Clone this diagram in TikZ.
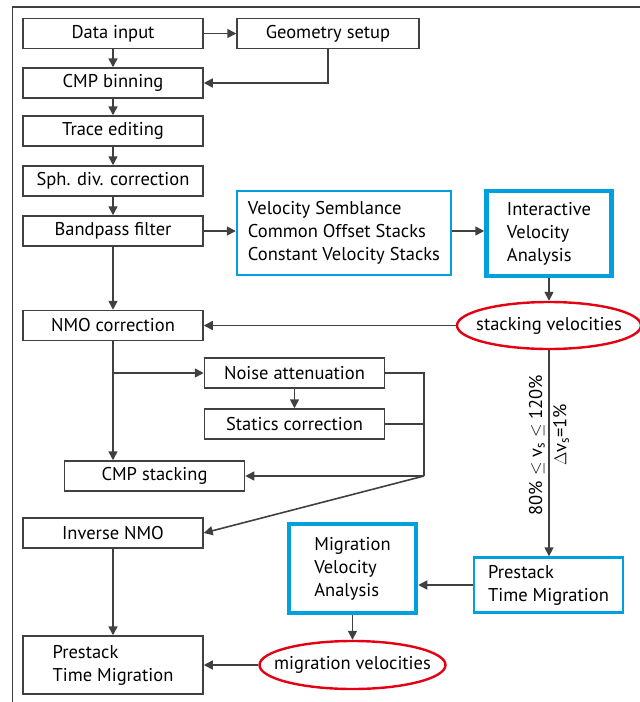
\documentclass[tikz,border=0pt]{standalone}
\usepackage{fontspec}
\setmainfont{PT Sans}
\usetikzlibrary{shapes.geometric}
\usetikzlibrary{positioning}
\usetikzlibrary{arrows.meta}
\definecolor{linegray}{RGB}{64,64,64}
\definecolor{boxblue}{RGB}{0,160,222}
\definecolor{velred}{RGB}{228,0,18}

\begin{document}
\begin{tikzpicture}[x=1pt, y=-1pt, font=\fontsize{18.5}{23}\selectfont,
    box/.style={draw=linegray, line width=1.5pt, rectangle, minimum width=180pt, minimum height=30pt, inner sep=0pt, align=center},
    bluebox/.style={draw=boxblue, line width=2.4pt, rectangle, inner sep=0pt, align=left},
    thickblue/.style={bluebox, line width=4.5pt},
    velo/.style={draw=velred, line width=2.4pt, ellipse, inner xsep=-15pt, inner ysep=0pt, minimum width=184pt, minimum height=47pt},
    flow/.style={draw=linegray, line width=1.6pt, -{Triangle[length=9pt,width=9pt]}},
    link/.style={draw=linegray, line width=1.6pt}]
            \useasboundingbox (0,0) rectangle (640,702);
            \draw[link] (640,7) -- (12.5,7) -- (12.5,702);

            \node[box] (datain) at (113,33.5) {Data input};
            \node[box, minimum width=182pt] (geom) at (328,33.5) {Geometry setup};
            \node[box] (cmpbin) at (113,83) {CMP binning};
            \node[box] (trace) at (113,131) {Trace editing};
            \node[box] (sphdiv) at (113,181) {Sph. div. correction};
            \node[box] (bandpass) at (113,231) {Bandpass filter};
            \node[bluebox, minimum width=214pt, minimum height=84pt] (semb) at (344,233) {Velocity Semblance\\Common Offset Stacks\\Constant Velocity Stacks};
            \node[thickblue, minimum width=125pt, minimum height=85pt] (iva) at (549,233.5) {Interactive\\Velocity\\Analysis};
            \node[velo] (stackvel) at (549,325.5) {stacking velocities};
            \node[box] (nmo) at (113,325.5) {NMO correction};
            \node[box] (noise) at (294.5,373) {Noise attenuation};
            \node[box] (statics) at (294.5,424) {Statics correction};
            \node[box] (cmpstack) at (154.5,476) {CMP stacking};
            \node[box] (invnmo) at (113,533) {Inverse NMO};
            \node[thickblue, minimum width=127pt, minimum height=89pt] (mva) at (352.5,568.5) {Migration\\Velocity\\Analysis};
            \node[bluebox, minimum width=149pt, minimum height=55pt] (ptmr) at (548.5,585) {Prestack\\Time Migration};
            \node[velo, minimum width=186pt, minimum height=48pt] (migvel) at (352.5,665) {migration velocities};
            \node[box, minimum height=58pt, align=left] (ptml) at (113,665) {Prestack\\Time Migration};
            \coordinate (split) at (113,373);
            \coordinate (merge) at (424,476);

            \draw[flow] (datain) -- (geom);
            \draw[flow] (datain) -- (cmpbin);
            \draw[flow] (geom.south) |- (cmpbin.east);
            \draw[flow] (cmpbin) -- (trace);
            \draw[flow] (trace) -- (sphdiv);
            \draw[flow] (sphdiv) -- (bandpass);
            \draw[flow] (bandpass.east) -- (bandpass.east -| semb.west);
            \draw[flow] (semb.east |- bandpass.east) -- (bandpass.east -| iva.west);
            \draw[flow] (iva) -- (stackvel);
            \draw[flow] (bandpass) -- (nmo);
            \draw[flow] (stackvel) -- (nmo);
            \draw[flow] (nmo) -- (nmo |- cmpstack.north);
            \draw[flow] (split) -- (noise.west);
            \draw[flow] (noise) -- (statics);
            \draw[link] (noise.east) -| (merge);
            \draw[link] (statics.east) -- (statics.east -| merge);
            \draw[flow] (merge) -- (cmpstack.east);
            \draw[flow] (merge) -- (invnmo.east);
            \draw[flow] (invnmo) -- (ptml);
            \draw[flow] (stackvel) -- (stackvel |- ptmr.north)
                node[pos=0.46, anchor=south, rotate=90] {80\% $\le$ v\textsubscript{s} $\le$ 120\%}
                node[pos=0.41, anchor=north, rotate=90] {$\Delta$v\textsubscript{s}=1\%};
            \draw[flow] (ptmr.west) -- (ptmr.west -| mva.east);
            \draw[flow] (mva) -- (migvel);
            \draw[flow] (migvel) -- (ptml);
        \end{tikzpicture}
\end{document}
